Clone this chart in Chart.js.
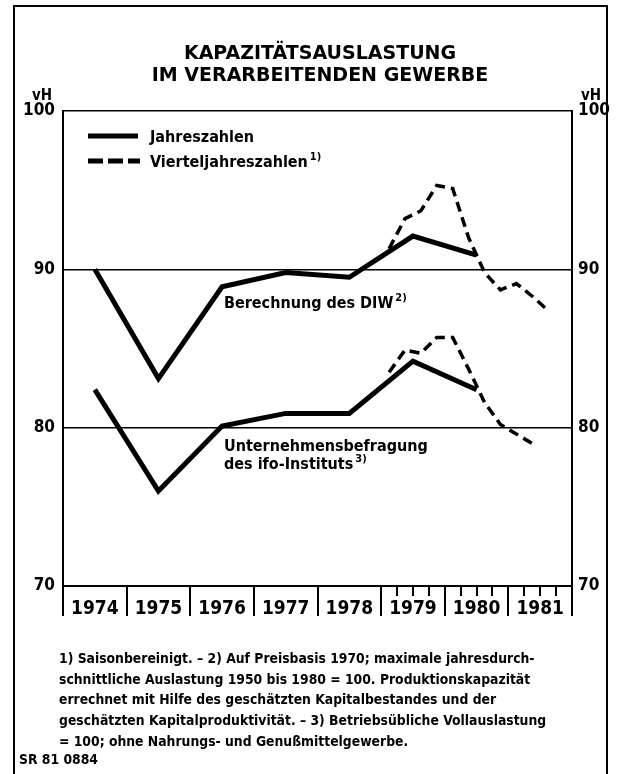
<!DOCTYPE html>
<html>
<head>
<meta charset="utf-8">
<script src="https://cdn.jsdelivr.net/npm/chart.js@4.4.1/dist/chart.umd.min.js"></script>
<style>
    html, body { margin: 0; padding: 0; background: #fff; }
    #wrap { width: 621px; height: 774px; }
</style>
</head>
<body>
<div id="wrap"><canvas id="capacityChart" width="621" height="774"></canvas></div>
<script>
// Chart data
const years = [1974, 1975, 1976, 1977, 1978, 1979, 1980, 1981];
const annualYears = [1974, 1975, 1976, 1977, 1978, 1979, 1980];
const diwAnnual = [90.0, 83.1, 88.9, 89.8, 89.5, 92.1, 90.9];
const ifoAnnual = [82.4, 76.0, 80.1, 80.9, 80.9, 84.2, 82.4];

const diwQuarters = ['1979 Q1', '1979 Q2', '1979 Q3', '1979 Q4', '1980 Q1', '1980 Q2', '1980 Q3', '1980 Q4', '1981 Q1', '1981 Q2', '1981 Q3'];
const diwQuarterly = [91.3, 93.2, 93.7, 95.3, 95.1, 92.0, 89.8, 88.7, 89.1, 88.3, 87.4];
const ifoQuarters = ['1979 Q1', '1979 Q2', '1979 Q3', '1979 Q4', '1980 Q1', '1980 Q2', '1980 Q3', '1980 Q4', '1981 Q1', '1981 Q2'];
const ifoQuarterly = [83.5, 84.9, 84.7, 85.7, 85.7, 83.7, 81.6, 80.2, 79.6, 79.0];

const yTicks = [70, 80, 90, 100];
const quarterTickYears = [1979, 1980, 1981];

const FONT = '"Liberation Sans Narrow", "DejaVu Sans Condensed", sans-serif';

// Position of a year / quarter on the linear x-axis
function annualPoints(yrs, values) {
    return yrs.map((y, i) => ({ x: y + 0.5, y: values[i] }));
}
function quarterPoints(labels, values) {
    return labels.map((l, i) => {
        const parts = l.split(' Q');
        return { x: Number(parts[0]) + (Number(parts[1]) - 0.5) / 4, y: values[i] };
    });
}

// Draw frame, title, legend, notes and the year separators
const decorations = {
    id: 'decorations',
    afterDraw(chart) {
        const ctx = chart.ctx;
        const area = chart.chartArea;
        const xs = chart.scales.x;
        ctx.save();
        ctx.strokeStyle = '#000';
        ctx.fillStyle = '#000';

        // outer frame
        ctx.lineWidth = 2;
        ctx.beginPath();
        ctx.moveTo(14, 780);
        ctx.lineTo(14, 6);
        ctx.lineTo(607, 6);
        ctx.lineTo(607, 780);
        ctx.stroke();

        // year separators and quarter ticks
        years.concat([1982]).forEach(y => {
            const px = Math.round(xs.getPixelForValue(y));
            ctx.lineWidth = 2;
            ctx.beginPath();
            ctx.moveTo(px, area.bottom);
            ctx.lineTo(px, area.bottom + 30);
            ctx.stroke();
        });
        quarterTickYears.forEach(y => {
            [0.25, 0.5, 0.75].forEach(q => {
                const px = Math.round(xs.getPixelForValue(y + q));
                ctx.lineWidth = 2;
                ctx.beginPath();
                ctx.moveTo(px, area.bottom);
                ctx.lineTo(px, area.bottom + 10);
                ctx.stroke();
            });
        });

        // title
        ctx.textAlign = 'center';
        ctx.textBaseline = 'alphabetic';
        ctx.font = 'bold 19px "DejaVu Sans", sans-serif';
        ctx.fillText('KAPAZITÄTSAUSLASTUNG', 320, 59);
        ctx.fillText('IM VERARBEITENDEN GEWERBE', 320, 81);

        // unit labels
        ctx.font = 'bold 15px ' + FONT;
        ctx.fillText('vH', 42, 100);
        ctx.fillText('vH', 591, 100);

        // legend
        ctx.textAlign = 'left';
        ctx.lineWidth = 5;
        ctx.beginPath();
        ctx.moveTo(88, 136);
        ctx.lineTo(138, 136);
        ctx.stroke();
        ctx.setLineDash([15, 5]);
        ctx.beginPath();
        ctx.moveTo(88, 161);
        ctx.lineTo(140, 161);
        ctx.stroke();
        ctx.setLineDash([]);
        ctx.font = 'bold 16px ' + FONT;
        ctx.fillText('Jahreszahlen', 150, 142);
        ctx.fillText('Vierteljahreszahlen', 150, 167);
        let w = ctx.measureText('Vierteljahreszahlen').width;
        ctx.font = 'bold 11px ' + FONT;
        ctx.fillText('1)', 152 + w, 160);

        // series annotations
        ctx.font = 'bold 16px ' + FONT;
        ctx.fillText('Berechnung des DIW', 224, 308);
        w = ctx.measureText('Berechnung des DIW').width;
        ctx.font = 'bold 11px ' + FONT;
        ctx.fillText('2)', 226 + w, 301);
        ctx.font = 'bold 16px ' + FONT;
        ctx.fillText('Unternehmensbefragung', 224, 451);
        ctx.fillText('des ifo-Instituts', 224, 469);
        w = ctx.measureText('des ifo-Instituts').width;
        ctx.font = 'bold 11px ' + FONT;
        ctx.fillText('3)', 226 + w, 462);

        // footnotes
        const notes = [
            '1) Saisonbereinigt. – 2) Auf Preisbasis 1970; maximale jahresdurch-',
            'schnittliche Auslastung 1950 bis 1980 = 100. Produktionskapazität',
            'errechnet mit Hilfe des geschätzten Kapitalbestandes und der',
            'geschätzten Kapitalproduktivität. – 3) Betriebsübliche Vollauslastung',
            '= 100; ohne Nahrungs- und Genußmittelgewerbe.'
        ];
        ctx.font = 'bold 13.8px ' + FONT;
        notes.forEach((t, i) => ctx.fillText(t, 59, 663 + i * 20.7));
        ctx.fillText('SR 81 0884', 19, 764);
        ctx.restore();
    }
};

const ctx = document.getElementById('capacityChart');
const chart = new Chart(ctx, {
    type: 'line',
    data: {
        datasets: [
            {
                label: 'DIW Jahreszahlen',
                data: annualPoints(annualYears, diwAnnual),
                borderColor: '#000',
                borderWidth: 5,
                pointRadius: 0,
                tension: 0
            },
            {
                label: 'ifo Jahreszahlen',
                data: annualPoints(annualYears, ifoAnnual),
                borderColor: '#000',
                borderWidth: 5,
                pointRadius: 0,
                tension: 0
            },
            {
                label: 'DIW Vierteljahreszahlen',
                data: quarterPoints(diwQuarters, diwQuarterly),
                borderColor: '#000',
                borderWidth: 3.5,
                borderDash: [10, 6],
                pointRadius: 0,
                tension: 0
            },
            {
                label: 'ifo Vierteljahreszahlen',
                data: quarterPoints(ifoQuarters, ifoQuarterly),
                borderColor: '#000',
                borderWidth: 3.5,
                borderDash: [10, 6],
                pointRadius: 0,
                tension: 0
            }
        ]
    },
    options: {
        responsive: false,
        animation: false,
        layout: { padding: { top: 111, left: 0, right: 0, bottom: 0 } },
        plugins: {
            legend: { display: false },
            tooltip: { enabled: false },
            title: { display: false }
        },
        scales: {
            x: {
                type: 'linear',
                min: 1974,
                max: 1982,
                afterBuildTicks: scale => {
                    scale.ticks = years.map(y => ({ value: y + 0.5 }));
                },
                afterFit: scale => { scale.height = 188; },
                grid: { display: false, drawTicks: false },
                border: { color: '#000', width: 2 },
                ticks: {
                    autoSkip: false,
                    maxRotation: 0,
                    padding: 12,
                    color: '#000',
                    font: { family: FONT, size: 19, weight: 'bold' },
                    callback: v => String(Math.floor(v))
                }
            },
            y: {
                position: 'left',
                min: 70,
                max: 100,
                afterBuildTicks: scale => {
                    scale.ticks = yTicks.map(v => ({ value: v }));
                },
                afterFit: scale => { scale.width = 63; },
                grid: { color: '#000', lineWidth: 1.5, drawTicks: false },
                border: { color: '#000', width: 2 },
                ticks: {
                    padding: 8,
                    color: '#000',
                    font: { family: FONT, size: 17, weight: 'bold' }
                }
            },
            y2: {
                position: 'right',
                min: 70,
                max: 100,
                afterBuildTicks: scale => {
                    scale.ticks = yTicks.map(v => ({ value: v }));
                },
                afterFit: scale => { scale.width = 49; },
                grid: { display: false, drawTicks: false },
                border: { color: '#000', width: 2 },
                ticks: {
                    padding: 6,
                    color: '#000',
                    font: { family: FONT, size: 17, weight: 'bold' }
                }
            }
        }
    },
    plugins: [decorations]
});
</script>
</body>
</html>
